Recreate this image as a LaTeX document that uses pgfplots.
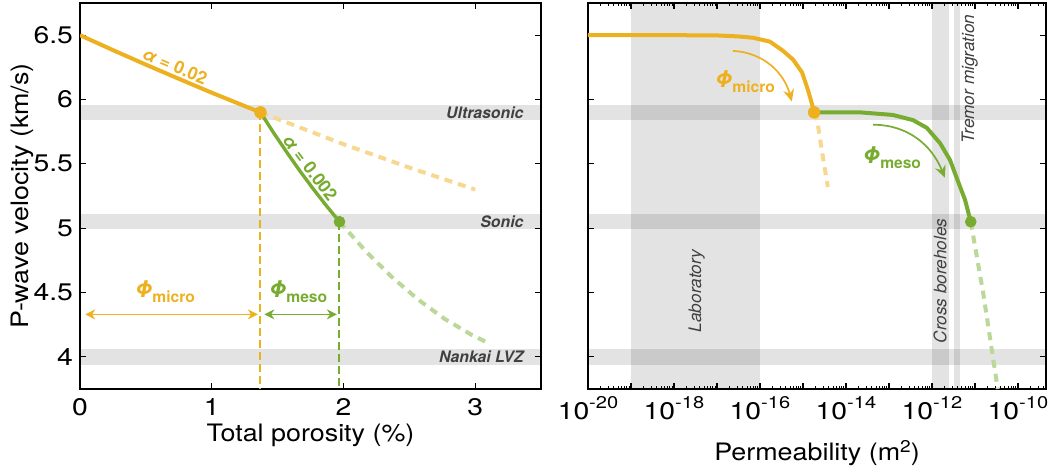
\documentclass[border=0pt]{standalone}
\usepackage{pgfplots}
\pgfplotsset{compat=1.18}
\usepackage{fontspec}
\setmainfont{TeX Gyre Heros}
\newfontfamily\tickfont{TeX Gyre Heros}[FakeStretch=1.18]
\newfontfamily\labfont{TeX Gyre Heros}[FakeStretch=1.12]
\usetikzlibrary{arrows.meta}
\definecolor{myorange}{HTML}{EDB120}
\definecolor{mygreen}{HTML}{77AC30}
\definecolor{lorange}{HTML}{F7D891}
\definecolor{lgreen}{HTML}{BCD79A}
\definecolor{labgray}{HTML}{404040}
\newcommand\tp[1]{10\raisebox{5.8pt}{\fontsize{8.5}{9}\selectfont #1}}
\def\minorlist{1e-20}
\foreach \e in {-20,...,-10}{\foreach \m in {2,...,9}{\xdef\minorlist{\minorlist,\m e\e}}}
\edef\tmp{\noexpand\pgfplotsset{minortickset/.style={minor xtick={\minorlist}}}}\tmp
\pgfplotsset{
  base/.style={
    scale only axis, height=193pt, ymin=3.75, ymax=6.75,
    ytick={4,4.5,5,5.5,6,6.5},
    tick align=inside, major tick length=3.2pt, minor tick length=1.6pt,
    axis line style={line width=0.8pt},
    major tick style={line width=0.6pt, black},
    minor tick style={line width=0.5pt, black},
    tick label style={font=\tickfont\fontsize{12}{14}\selectfont},
    label style={font=\labfont\fontsize{12}{14}\selectfont},
    /pgf/number format/assume math mode=true,
  },
}
\tikzset{
  band/.style={fill=black, fill opacity=0.11, draw=none},
  phil/.style={font=\fontsize{11.5}{12}\selectfont\bfseries\itshape},
  blab/.style={font=\fontsize{7.9}{9}\selectfont\bfseries\itshape, text=labgray, anchor=east, inner sep=0pt},
  vlab/.style={font=\fontsize{8.6}{9}\selectfont\itshape, text=labgray, rotate=90, inner sep=0pt},
  alab/.style={font=\fontsize{8.8}{9}\selectfont\bfseries, inner sep=0pt},
}
\newcommand\sub[1]{\raisebox{-0.22em}{\fontsize{7.8}{8}\selectfont\upshape #1}}
\begin{document}
\begin{tikzpicture}
\useasboundingbox (0,0) rectangle (524pt,-236pt);
% ---------------- left panel ----------------
\begin{axis}[base, at={(40pt,-194.5pt)}, anchor=south west, width=230.5pt,
  xmin=0, xmax=3.5, xtick={0,1,2,3},
  xticklabel style={yshift=-1pt},
  xlabel={Total porosity (\%)}, ylabel={P-wave velocity (km/s)},
  xlabel style={at={(axis description cs:0.5,-0.137)}, anchor=base},
  ylabel style={at={(axis description cs:-0.124,0.5)}, anchor=center}]
\fill[band] (axis cs:0,5.84) rectangle (axis cs:3.5,5.96);
\fill[band] (axis cs:0,4.99) rectangle (axis cs:3.5,5.11);
\fill[band] (axis cs:0,3.94) rectangle (axis cs:3.5,4.06);
\node[blab] at (axis cs:3.37,5.9) {Ultrasonic};
\node[blab] at (axis cs:3.37,5.05) {Sonic};
\node[blab] at (axis cs:3.37,4.0) {Nankai LVZ};
% dashed extrapolations
\addplot[lorange, line width=2pt, dash pattern=on 4pt off 3pt] coordinates {(1.37,5.9)(2.0,5.653)(2.5,5.471)(3.0,5.3)};
\addplot[lgreen, line width=2pt, dash pattern=on 4pt off 3pt] coordinates {(1.97,5.05)(2.17,4.82)(2.37,4.618)(2.57,4.443)(2.77,4.294)(2.97,4.173)(3.10,4.107)};
% vertical markers
\addplot[myorange, line width=1pt, dash pattern=on 4pt off 2pt] coordinates {(1.37,5.9)(1.37,3.75)};
\addplot[mygreen, line width=1pt, dash pattern=on 4pt off 2pt] coordinates {(1.97,5.05)(1.97,3.75)};
% solid curves
\addplot[myorange, line width=2pt] coordinates {(0,6.5)(0.25,6.384)(0.5,6.271)(0.75,6.161)(1.0,6.053)(1.2,5.970)(1.37,5.9)};
\addplot[mygreen, line width=1.7pt] coordinates {(1.37,5.9)(1.47,5.741)(1.57,5.590)(1.67,5.444)(1.77,5.306)(1.87,5.175)(1.97,5.05)};
\addplot[only marks, mark=*, mark size=2.9pt, myorange] coordinates {(1.37,5.9)};
\addplot[only marks, mark=*, mark size=2.7pt, mygreen] coordinates {(1.97,5.05)};
% range arrows
\draw[myorange, line width=0.6pt, {Stealth[length=5pt,width=5pt]}-{Stealth[length=5pt,width=5pt]}] (axis cs:0.04,4.33) -- (axis cs:1.35,4.33);
\draw[mygreen, line width=0.6pt, {Stealth[length=5pt,width=5pt]}-{Stealth[length=5pt,width=5pt]}] (axis cs:1.40,4.33) -- (axis cs:1.95,4.33);
\node[phil, text=myorange] at (axis cs:0.645,4.51) {Φ\sub{micro}};
\node[phil, text=mygreen] at (axis cs:1.655,4.51) {Φ\sub{meso}};
\node[alab, text=myorange, rotate=-23] at (axis cs:0.72,6.26) {\textit{α} = 0.02};
\node[alab, text=mygreen, rotate=-53] at (axis cs:1.746,5.47) {\textit{α} = 0.002};
\end{axis}
% ---------------- right panel ----------------
\begin{axis}[base, xmode=log, at={(294pt,-194.5pt)}, anchor=south west, width=229pt,
  xmin=1e-20, xmax=4.5e-10,
  xtick={1e-20,1e-19,1e-18,1e-17,1e-16,1e-15,1e-14,1e-13,1e-12,1e-11,1e-10},
  xticklabels={\tp{-20},{},\tp{-18},{},\tp{-16},{},\tp{-14},{},\tp{-12},{},\tp{-10}},
  minortickset, yticklabels={},
  xlabel={Permeability (m\raisebox{4pt}{\fontsize{8.5}{9}\selectfont 2})},
  xlabel style={at={(axis description cs:0.5,-0.186)}, anchor=base}]
\fill[band] (axis cs:1e-20,5.84) rectangle (axis cs:4.5e-10,5.96);
\fill[band] (axis cs:1e-20,4.99) rectangle (axis cs:4.5e-10,5.11);
\fill[band] (axis cs:1e-20,3.94) rectangle (axis cs:4.5e-10,4.06);
\fill[band] (axis cs:1e-19,3.75) rectangle (axis cs:1e-16,6.75);
\fill[band] (axis cs:1e-12,3.75) rectangle (axis cs:2.5e-12,6.75);
\fill[band] (axis cs:3.2e-12,3.75) rectangle (axis cs:4.5e-12,6.75);
\node[vlab] at (axis cs:3.39e-18,4.51) {Laboratory};
\node[vlab] at (axis cs:1.55e-12,4.59) {Cross boreholes};
\node[vlab] at (axis cs:7.6e-12,6.16) {Tremor migration};
% dashed extrapolations
\addplot[lorange, line width=2pt, dash pattern=on 4pt off 3pt] coordinates {(1.82e-15,5.9)(2.14e-15,5.84)(2.82e-15,5.58)(3.80e-15,5.32)};
\addplot[lgreen, line width=2pt, dash pattern=on 4pt off 3pt] coordinates {(8.0e-12,5.05)(1.55e-11,4.5)(3.4e-11,3.75)};
% solid curves
\addplot[myorange, line width=2pt] coordinates {(1e-20,6.5)(1e-18,6.5)(1e-17,6.498)(3.16e-17,6.49)(6.92e-17,6.48)(1.70e-16,6.45)(3.39e-16,6.38)(5.89e-16,6.31)(9.55e-16,6.21)(1.32e-15,6.07)(1.70e-15,5.94)(1.82e-15,5.9)};
\addplot[mygreen, line width=2pt] coordinates {(1.82e-15,5.9)(1e-14,5.9)(2.14e-14,5.90)(1.23e-13,5.88)(3.63e-13,5.84)(7.59e-13,5.78)(1.55e-12,5.66)(2.63e-12,5.53)(3.98e-12,5.37)(5.89e-12,5.22)(8.0e-12,5.05)};
\addplot[only marks, mark=*, mark size=2.9pt, myorange] coordinates {(1.82e-15,5.9)};
\addplot[only marks, mark=*, mark size=2.7pt, mygreen] coordinates {(8.0e-12,5.05)};
% curved arrows
\draw[myorange, line width=0.85pt, -{Stealth[length=6pt,width=5.5pt,inset=2pt]}] (axis cs:2.34e-17,6.378) to[out=-3,in=105] (axis cs:5.5e-16,5.985);
\draw[mygreen, line width=0.85pt, -{Stealth[length=6pt,width=5.5pt,inset=2pt]}] (axis cs:4.27e-14,5.804) to[out=0,in=112] (axis cs:2.0e-12,5.393);
\node[phil, text=myorange] at (axis cs:4.47e-17,6.138) {Φ\sub{micro}};
\node[phil, text=mygreen] at (axis cs:1.17e-13,5.55) {Φ\sub{meso}};
\end{axis}
\end{tikzpicture}
\end{document}
